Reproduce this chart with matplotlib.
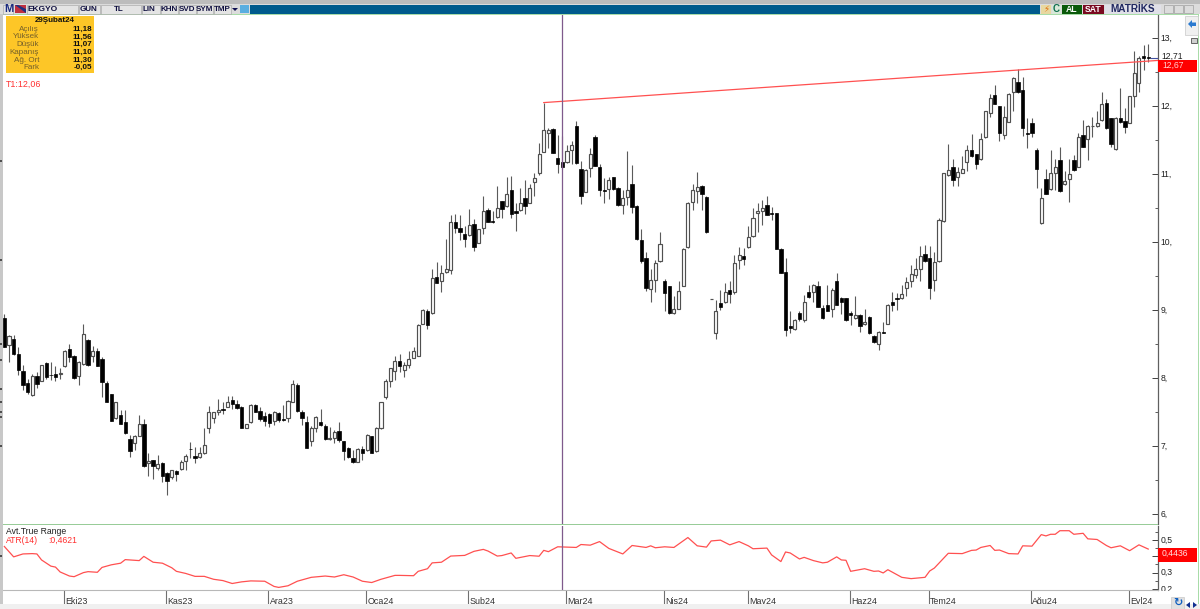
import numpy as np
import matplotlib
matplotlib.use('Agg')
import matplotlib.pyplot as plt
from matplotlib.patches import Rectangle, Polygon
from matplotlib.ticker import FixedLocator, MultipleLocator
from matplotlib.transforms import ScaledTranslation

plt.rcParams['font.family'] = ['Liberation Sans Narrow', 'Liberation Sans', 'DejaVu Sans']

# gunluk mumlar: acilis, yuksek, dusuk, kapanis (Eylul 23 - Eylul 24)
opens = [8.88,8.49,8.58,8.36,8.11,7.93,7.75,8.03,7.95,8.22,8.05,8.06,8.06,8.17,8.43,8.32,8.03,8.21,8.56,8.32,
    8.40,8.28,7.93,7.77,7.41,7.45,7.35,7.10,7.04,7.15,7.32,6.75,6.79,6.67,6.75,6.61,6.55,6.63,6.66,6.78,
    6.96,6.85,6.84,6.90,7.26,7.41,7.50,7.55,7.58,7.68,7.62,7.58,7.27,7.35,7.60,7.51,7.44,7.47,7.37,7.49,
    7.39,7.41,7.65,7.90,7.50,7.36,7.07,7.26,7.35,7.30,7.10,7.12,7.22,7.07,6.97,6.82,6.77,6.96,6.94,7.15,
    6.92,7.26,7.72,7.96,8.11,8.25,8.12,8.19,8.30,8.33,8.80,8.99,8.95,9.49,9.43,9.56,9.59,10.30,10.21,10.12,
    10.10,10.27,9.99,10.20,10.47,10.31,10.37,10.60,10.53,10.76,10.45,10.47,10.65,10.58,10.88,11.01,11.33,11.61,11.66,11.23,
    11.18,11.17,11.35,11.71,11.08,10.74,11.09,11.55,11.11,10.76,10.78,10.95,10.79,10.55,10.66,10.85,10.53,10.03,9.77,9.31,
    9.44,9.72,9.43,9.35,8.95,9.02,9.36,9.92,10.59,10.75,10.82,10.66,9.16,8.66,9.11,9.12,9.29,9.27,9.74,9.79,
    9.92,10.09,10.42,10.45,10.54,10.42,10.42,9.90,9.56,8.77,8.72,8.95,8.85,9.26,9.27,9.36,9.03,9.08,9.01,9.42,
    9.18,9.17,8.96,8.88,8.93,8.79,8.90,8.62,8.50,8.67,8.80,9.12,9.17,9.17,9.32,9.42,9.51,9.61,9.83,9.77,
    9.44,9.72,10.31,10.99,11.11,10.95,11.02,11.17,11.36,11.29,11.22,11.54,11.90,12.16,12.00,11.58,11.77,12.20,12.36,12.23,
    11.61,11.75,11.36,10.28,10.92,10.78,11.01,11.20,10.85,10.92,11.21,11.11,11.57,11.51,11.71,11.70,11.79,12.05,11.82,11.37,
    11.82,11.78,11.75,12.14,12.34,12.74,12.72]
highs = [8.94,8.63,8.63,8.46,8.19,7.99,8.06,8.09,8.19,8.24,8.23,8.17,8.14,8.41,8.50,8.34,8.25,8.80,8.58,8.47,
    8.44,8.31,7.95,7.77,7.65,7.53,7.53,7.16,7.16,7.45,7.39,6.89,6.80,6.87,6.76,6.62,6.65,6.65,6.79,6.88,
    7.06,6.99,6.99,7.26,7.59,7.50,7.69,7.65,7.73,7.74,7.68,7.59,7.33,7.62,7.62,7.58,7.50,7.49,7.51,7.50,
    7.60,7.68,7.97,7.92,7.53,7.44,7.29,7.44,7.55,7.32,7.28,7.24,7.35,7.07,6.98,6.94,6.97,7.00,7.18,7.15,
    7.28,7.65,7.98,8.14,8.32,8.35,8.24,8.39,8.46,8.80,9.02,9.02,9.60,9.71,9.66,10.04,10.40,10.41,10.40,10.23,
    10.49,10.34,10.19,10.68,10.50,10.46,10.82,10.61,10.96,10.97,10.57,10.80,10.91,10.85,11.02,11.45,12.05,11.67,11.68,11.57,
    11.56,11.43,11.48,11.78,11.19,11.07,11.38,11.57,11.14,10.94,10.96,10.95,10.81,10.76,11.34,11.13,10.54,10.19,9.86,9.61,
    9.73,10.15,9.45,9.35,9.20,9.42,9.91,10.59,10.86,11.03,10.84,10.67,9.16,9.15,9.29,9.39,9.42,9.81,9.92,9.91,
    10.24,10.50,10.57,10.62,10.68,10.51,10.43,9.91,9.76,8.98,8.87,8.98,9.22,9.37,9.38,9.42,9.07,9.37,9.32,9.55,
    9.19,9.18,8.98,9.21,8.94,9.01,8.91,8.63,8.69,8.83,9.09,9.26,9.25,9.37,9.49,9.66,9.76,9.94,9.96,9.94,
    9.86,10.35,11.02,11.44,11.22,11.10,11.26,11.43,11.59,11.30,11.61,11.93,12.17,12.31,12.00,12.00,12.19,12.42,12.54,12.42,
    11.83,11.82,11.38,10.79,11.08,11.35,11.22,11.40,11.04,11.22,11.28,11.61,11.80,11.72,11.84,11.93,12.20,12.10,11.83,11.84,
    12.26,11.97,12.15,12.81,12.73,12.89,12.91]
lows = [8.45,8.24,8.34,8.04,7.82,7.77,7.74,7.85,7.95,7.99,7.97,7.96,7.99,8.16,8.24,7.99,7.90,8.19,8.17,8.24,
    8.18,7.72,7.65,7.37,7.39,7.32,7.18,6.84,6.94,7.14,6.69,6.56,6.51,6.65,6.47,6.28,6.52,6.48,6.65,6.65,
    6.82,6.75,6.82,6.88,7.19,7.34,7.46,7.47,7.57,7.55,7.54,7.27,7.26,7.34,7.50,7.37,7.30,7.28,7.31,7.35,
    7.37,7.36,7.64,7.50,7.31,6.97,7.00,7.21,7.29,7.09,7.09,7.05,7.06,6.79,6.82,6.75,6.76,6.80,6.93,6.89,
    6.91,7.25,7.69,7.87,7.97,8.09,8.01,8.14,8.29,8.32,8.79,8.72,8.94,9.39,9.26,9.54,9.53,10.13,10.03,9.92,
    10.09,9.87,9.98,10.12,10.29,10.28,10.36,10.35,10.52,10.36,10.16,10.46,10.41,10.57,10.68,10.98,11.32,11.38,11.31,11.02,
    11.07,11.16,11.15,11.15,10.56,10.73,10.96,11.12,10.67,10.58,10.63,10.77,10.53,10.41,10.54,10.43,10.03,9.69,9.28,9.12,
    9.27,9.71,8.99,8.94,8.94,9.01,9.35,9.91,10.47,10.57,10.47,10.13,9.16,8.57,9.00,9.11,9.11,9.23,9.60,9.66,
    9.91,10.08,10.15,10.25,10.39,10.32,9.89,9.54,8.62,8.66,8.70,8.84,8.83,9.18,9.12,9.04,8.87,8.98,8.90,9.07,
    8.94,8.84,8.78,8.87,8.68,8.78,8.64,8.51,8.41,8.66,8.79,8.99,9.00,9.16,9.21,9.34,9.47,9.42,9.71,9.16,
    9.28,9.71,10.30,10.97,10.82,10.82,11.02,11.05,11.25,11.07,11.21,11.53,11.84,12.03,11.49,11.52,11.76,11.93,12.19,11.56,
    11.38,11.55,10.80,10.27,10.70,10.77,10.77,10.73,10.84,10.59,11.05,11.10,11.39,11.21,11.55,11.69,11.78,11.66,11.40,11.36,
    11.75,11.61,11.75,11.98,12.21,12.53,12.65]
closes = [8.46,8.62,8.35,8.12,7.89,7.80,8.03,7.91,8.19,8.01,8.04,8.02,8.08,8.40,8.31,8.00,8.23,8.65,8.19,8.40,
    8.18,7.94,7.65,7.37,7.64,7.33,7.19,6.93,7.14,7.32,6.70,6.78,6.70,6.73,6.56,6.49,6.64,6.59,6.77,6.86,
    6.95,6.83,6.89,7.01,7.50,7.50,7.53,7.53,7.65,7.62,7.56,7.27,7.32,7.61,7.50,7.40,7.37,7.34,7.50,7.38,
    7.38,7.66,7.91,7.51,7.41,6.97,7.27,7.42,7.31,7.10,7.12,7.20,7.09,6.92,6.84,6.76,6.95,6.89,7.16,6.89,
    7.27,7.65,7.96,8.14,8.25,8.18,8.19,8.28,8.39,8.78,9.00,8.78,9.47,9.40,9.54,9.61,10.29,10.20,10.15,10.05,
    10.25,9.93,10.19,10.45,10.30,10.30,10.50,10.48,10.71,10.41,10.43,10.58,10.53,10.80,10.94,11.30,11.64,11.64,11.31,11.15,
    11.10,11.34,11.42,11.16,10.68,11.06,11.30,11.12,10.77,10.75,10.91,10.78,10.54,10.65,10.77,10.51,10.04,9.72,9.33,9.44,
    9.69,9.97,9.25,8.95,9.01,9.28,9.89,10.58,10.76,10.81,10.71,10.15,9.16,8.98,9.04,9.26,9.24,9.69,9.81,9.75,
    10.08,10.35,10.45,10.50,10.40,10.41,9.90,9.55,8.71,8.73,8.85,8.87,9.12,9.19,9.37,9.04,8.88,8.99,9.29,9.08,
    9.12,8.85,8.93,8.92,8.77,8.83,8.66,8.53,8.68,8.66,9.08,9.07,9.16,9.24,9.41,9.53,9.60,9.80,9.72,9.33,
    9.71,10.33,11.02,11.06,10.91,11.03,11.08,11.35,11.26,11.14,11.51,11.92,12.12,12.03,11.61,11.84,12.17,12.41,12.20,11.68,
    11.59,11.61,11.07,10.64,10.71,11.02,11.11,10.75,10.90,11.00,11.06,11.55,11.40,11.70,11.71,11.75,12.03,11.67,11.44,11.83,
    11.76,11.69,12.14,12.48,12.70,12.71,12.71]

# ATR(14), resimden okunan noktalar
atr_idx = [0,2,4,6,7,8,10,11,12,14,15,17,18,20,21,23,25,26,29,30,32,34,36,37,39,41,43,45,47,49,51,53,56,58,59,61,63,66,69,71,73,75,77,79,81,84,85,
    88,89,91,92,94,96,99,101,103,104,106,107,109,110,113,115,116,117,119,123,124,126,128,130,133,135,138,139,140,142,144,147,149,151,152,154,156,158,160,161,164,165,167,168,169,171,
    172,174,176,177,179,180,181,182,185,187,188,189,190,193,195,198,199,200,203,206,208,209,210,212,213,214,216,218,219,221,223,224,225,226,227,229,230,232,233,235,237,238,240,242,244,246]
atr_val = [.461,.397,.415,.417,.415,.378,.340,.334,.304,.279,.275,.300,.306,.302,.332,.348,.358,.380,.374,.400,.364,.358,.330,.308,.295,.277,.277,.259,.251,.233,.243,.249,.247,.215,.209,.219,.247,.271,.279,.273,.287,.273,.247,.239,.259,.283,.283,
    .281,.308,.324,.360,.364,.402,.406,.431,.443,.433,.402,.405,.421,.388,.405,.401,.437,.429,.459,.455,.473,.469,.491,.449,.415,.467,.455,.465,.453,.459,.455,.516,.465,.457,.495,.500,.471,.491,.465,.447,.451,.409,.368,.427,.421,.384,
    .394,.374,.360,.364,.397,.378,.376,.308,.324,.308,.310,.298,.318,.271,.263,.271,.310,.328,.419,.417,.437,.439,.455,.467,.437,.439,.417,.415,.465,.463,.534,.526,.536,.536,.558,.558,.536,.542,.508,.504,.467,.453,.465,.435,.471,.445]

months = ['Eki23','Kas23','Ara23','Oca24','Şub24','Mar24','Nis24','May24','Haz24','Tem24','Ağu24','Eyl24']
month_idx = [12.8,34.8,56.8,77.8,99.8,120.8,141.9,159.9,181.8,198.8,220.7,241.8]

info_title = '29Şubat24'
info_labels = ['Açılış','Yüksek','Düşük','Kapanış','Ağ. Ort','Fark']
info_values = ['11,18','11,56','11,07','11,10','11,30','-0,05']

trend_idx = [116, 248.1]
trend_val = [12.05, 12.67]
cursor_idx = 120

W, H = 1200, 609
fig = plt.figure(figsize=(W/100, H/100), dpi=100, facecolor='white')


def box(top, bottom, left=3, right=1158):
    return [left/W, 1-bottom/H, (right-left)/W, (bottom-top)/H]


# fiyat paneli
ax = fig.add_axes(box(15, 524))
idx = np.arange(len(closes))
o, h, l, c = map(np.array, (opens, highs, lows, closes))
up = c >= o
ax.vlines(idx, l, h, color='#5a5a5a', lw=0.8, zorder=2)
ax.bar(idx[up], (c-o)[up], bottom=o[up], width=0.66, facecolor='white', edgecolor='#505050', lw=0.85, zorder=3)
ax.bar(idx[~up], (c-o)[~up], bottom=o[~up], width=0.72, facecolor='black', edgecolor='black', lw=0.5, zorder=3)
ax.plot(trend_idx, trend_val, color='#ff5050', lw=0.9, zorder=4)
ax.axvline(cursor_idx, color='#7f5a8c', lw=0.9, zorder=5)
ax.hlines(closes[-1], 246.3, 248.1, color='#4050a0', lw=0.8, zorder=4)
ax.set_xlim(-0.29, 248.1)
ax.set_ylim(5.853, 13.338)

# ATR paneli
ax2 = fig.add_axes(box(526, 590))
ax2.plot(atr_idx, atr_val, color='#ff5050', lw=0.9)
ax2.axvline(cursor_idx, color='#7f5a8c', lw=0.9)
ax2.set_xlim(-0.29, 248.1)
ax2.set_ylim(0.193, 0.587)

for a in (ax, ax2):
    a.yaxis.tick_right()
    for s in ('top', 'left', 'bottom'):
        a.spines[s].set_visible(False)
    a.spines['right'].set_color('#606060')
    a.spines['right'].set_linewidth(0.9)
    a.tick_params(axis='y', which='major', direction='in', length=4.2, width=0.7, color='#404040',
                  labelsize=6.2, pad=2, labelcolor='#202020')
    a.tick_params(axis='y', which='minor', direction='in', length=2, width=0.6, color='#404040')

ax.yaxis.set_major_locator(FixedLocator([6, 7, 8, 9, 10, 11, 12, 13]))
ax.yaxis.set_major_formatter(lambda v, p: '%d,' % v)
ax.yaxis.set_minor_locator(MultipleLocator(0.5))
ax.set_xticks([])

# 0,4 etiketi kirmizi kutunun altinda kaliyor, yazilmiyor
ax2.yaxis.set_major_locator(FixedLocator([0.2, 0.3, 0.4, 0.5]))
ax2.yaxis.set_major_formatter(lambda v, p: '' if abs(v-0.4) < 0.01 else ('%.1f' % v).replace('.', ','))
ax2.yaxis.set_minor_locator(MultipleLocator(0.05))
ax2.spines['bottom'].set_visible(True)
ax2.spines['bottom'].set_color('#b8b8b8')
ax2.set_xticks(month_idx)
ax2.set_xticklabels(months, ha='left')
ax2.tick_params(axis='x', direction='out', length=9.8, width=0.8, color='#707070', labelsize=6.4,
                pad=-4.9, labelcolor='#303030')
for t in ax2.get_xticklabels():
    t.set_transform(t.get_transform() + ScaledTranslation(1.5/100, 0, fig.dpi_scale_trans))
for a in (ax, ax2):
    for t in a.get_yticklabels():
        t.set_verticalalignment('center')

# ekran cercevesi: piksel koordinatlari
ui = fig.add_axes([0, 0, 1, 1], zorder=10)
ui.set_xlim(0, W)
ui.set_ylim(H, 0)
ui.axis('off')
ui.patch.set_alpha(0)


def rect(x0, y0, x1, y1, fc, ec='none', lw=0.6):
    ui.add_patch(Rectangle((x0, y0), x1-x0, y1-y0, facecolor=fc, edgecolor=ec, lw=lw))


def label(x, y, s, color='black', size=6.2, ha='left', **kw):
    ui.text(x, y, s, color=color, fontsize=size, ha=ha, va='center', **kw)


# kenarlar
rect(0, 0, 3, 604, '#c8c8c8')
for y in (160, 259, 343, 359, 388, 401, 411, 416, 445, 555):
    rect(0, y, 1.5, y+1.5, '#505050')
rect(0, 0, 1200, 4, '#bcbcbc')
rect(0, 4, 1200, 14, '#dcdcdc')
rect(3, 14, 1198, 15.3, '#a8dca8')
rect(3, 523.8, 1158, 525, '#98cc98')
rect(1197.5, 14, 1199, 604, '#a8dca8')
rect(1159, 590.5, 1197, 594, 'white')
rect(0, 603.5, 1200, 609, '#f0f0f0')

# ust arac cubugu
for x0, x1 in [(3, 13), (27, 78), (79, 100), (101, 141), (142, 160), (161, 178), (179, 196), (197, 213), (214, 231)]:
    rect(x0, 5, x1, 13.5, '#e4e4e4', '#a0a0a0', 0.4)
label(4, 9.3, 'M', '#1a2a80', 8, fontweight='bold')
rect(15, 5, 26, 13, '#c03040')
ui.add_patch(Polygon([(15, 5), (26, 13), (26, 9), (18, 5)], facecolor='#203080'))
label(28, 9.3, 'EKGYO', '#101040', 6, fontweight='bold')
for x, s in [(89, 'GUN'), (119, 'TL'), (149, 'LIN'), (169, 'KHN'), (187, 'SVD'), (205, 'SYM'), (222, 'TMP')]:
    label(x, 9.3, s, '#101040', 5.8, ha='center', fontweight='bold')
ui.add_patch(Polygon([(232, 8), (238, 8), (235, 11)], facecolor='#101050'))
rect(240, 5, 249, 13, '#5aaee0')
rect(250, 5, 1040, 13.5, '#005a8c')
rect(1041, 5, 1051, 13.5, '#e8d8a0')
label(1046, 9.3, '⚡', '#e07010', 6.2, ha='center', family=['DejaVu Sans'])
rect(1052, 5, 1061, 13.5, '#d8e8d8')
label(1056.5, 9.3, 'C', '#107050', 7, ha='center', fontweight='bold')
rect(1062, 5, 1082, 13.5, '#0a5a0a')
label(1072, 9.3, 'AL', 'white', 6.2, ha='center', fontweight='bold')
rect(1083, 5, 1104, 13.5, '#7a0a20')
label(1093.5, 9.3, 'SAT', 'white', 6.2, ha='center', fontweight='bold')
rect(1105, 5, 1161, 13.5, '#e0e0e8')
label(1133, 9.3, 'MATRİKS', '#202860', 7.2, ha='center', fontweight='bold')
for x0 in (1164, 1174, 1184):
    rect(x0, 5, x0+8.5, 13, '#dcdcdc', '#909090', 0.4)
rect(1185, 16, 1198, 35, '#f0f0f0', '#c8c8c8', 0.5)
ui.add_patch(Polygon([(1188, 24), (1192, 20), (1192, 22.5), (1196, 22.5), (1196, 26), (1192, 26), (1192, 28)], facecolor='#2a7ad0'))
rect(1191, 38, 1197, 43, '#d0d0d0', '#505050', 0.6)

# bilgi kutusu
rect(6, 16, 94, 72.5, '#fdc627')
label(55, 21, info_title, '#101010', 5.8, ha='center', fontweight='bold')
for i, (a_, b_) in enumerate(zip(info_labels, info_values)):
    y = 29.3 + i*7.7
    label(39, y, a_, '#75602a', 5.8, ha='right')
    label(92, y, b_, '#101010', 5.8, ha='right', fontweight='bold')

label(6, 84, 'T1:12,06', '#ff3030', 6.4)
label(6, 532, 'Avt.True Range', '#202020', 6.2)
label(6, 540.5, 'ATR(14)', '#ff3030', 6.2)
label(48, 540.5, ':0,4621', '#ff3030', 6.2)

# son deger kutulari
label(1161, 56.5, '12,71', '#202020', 6.2)
rect(1158, 60, 1197, 72, '#ff0000')
label(1162, 65, '12,67', '#ffd0d0', 6.2)
rect(1158, 548, 1197, 562, '#ff0000')
label(1162, 553.5, '0,4436', '#ffe0e0', 6.2)

# alt sag dugmeler
rect(1171, 597, 1184, 609, '#e0e0e0', '#c0c0c0', 0.4)
label(1177.5, 603, '↻', '#1060c0', 8, ha='center', family=['DejaVu Sans'], fontweight='bold')
ui.add_patch(Polygon([(1186, 605), (1190, 602), (1190, 608)], facecolor='#103090'))
ui.add_patch(Polygon([(1197, 605), (1193, 602), (1193, 608)], facecolor='#103090'))

fig.savefig('out.png', dpi=100)
